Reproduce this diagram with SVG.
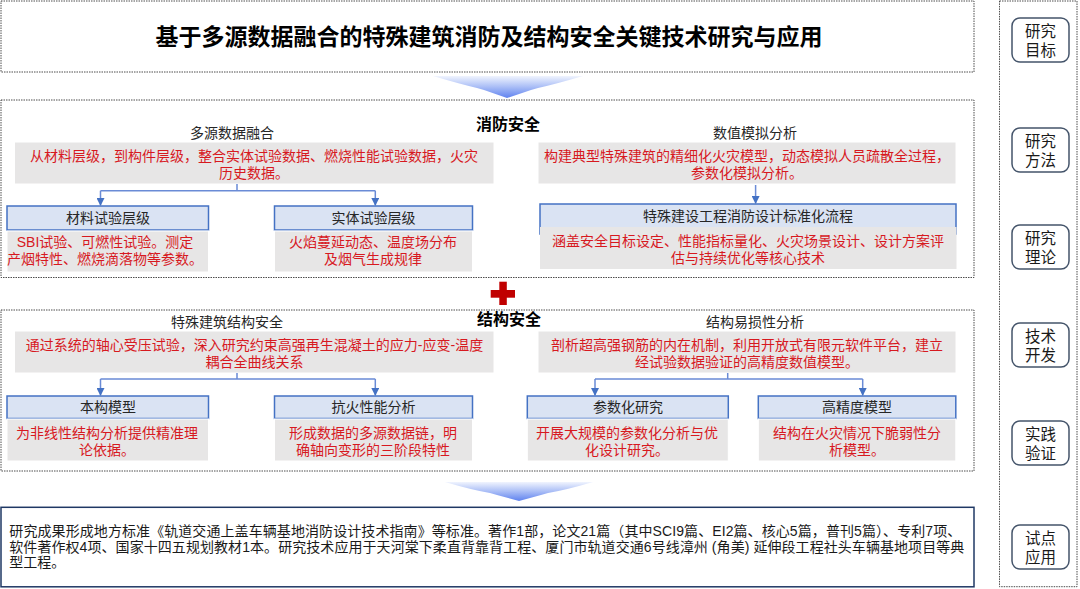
<svg xmlns="http://www.w3.org/2000/svg" width="1080" height="589" viewBox="0 0 1080 589">
<defs>
<linearGradient id="chev" x1="0" y1="0" x2="0" y2="1">
<stop offset="0" stop-color="#f0f4fe"/>
<stop offset="0.5" stop-color="#a9bdf6"/>
<stop offset="1" stop-color="#5f82ef"/>
</linearGradient>
<marker id="ah" markerWidth="8" markerHeight="8" refX="7" refY="4" orient="auto" markerUnits="userSpaceOnUse">
<path d="M0,0 L8,4 L0,8 Z" fill="#4472c4"/>
</marker>
<style>
.dot{fill:none;stroke:#4d4d4d;stroke-width:1;stroke-dasharray:1.5 1}
text{font-family:"Liberation Sans","Noto Sans CJK SC",sans-serif;dominant-baseline:central}
.lbl{font-size:14px;fill:#262626;text-anchor:middle}
.red{font-size:14px;fill:#d7191f;text-anchor:middle}
.sec{font-size:16px;font-weight:bold;fill:#000;text-anchor:middle}
.gray{fill:#e7e6e6;stroke:#fff;stroke-width:1}
.hdr{fill:#dae3f3;stroke:#4472c4;stroke-width:1.5}
.conn{fill:none;stroke:#6a8bd6;stroke-width:1.5}
.side{fill:#fff;stroke:#44546a;stroke-width:1.5}
.sidet{font-size:15.5px;fill:#1a1a1a;text-anchor:middle}
.body{font-size:14px;fill:#1a1a1a}
</style>
</defs>
<rect width="1080" height="589" fill="#fff"/>

<!-- Title -->
<g id="title">
<rect class="dot" x="1" y="1" width="973" height="71"/>
<text x="489" y="37" font-size="23" font-weight="bold" fill="#000" text-anchor="middle">基于多源数据融合的特殊建筑消防及结构安全关键技术研究与应用</text>
</g>

<!-- chevron 1 -->
<g id="chevron1">
<path d="M433,76 L583,76 Q556,84 538,88 L531,90 L507,98 L484,90 L477,88 Q460,84 433,76 Z" fill="url(#chev)"/>
</g>

<!-- Fire safety section -->
<g id="fire-section">
<rect class="dot" x="1" y="100" width="973" height="177.5"/>
<text class="sec" x="508" y="124">消防安全</text>
</g>

<g id="fire-fusion">
<text class="lbl" x="232" y="133">多源数据融合</text>
<rect class="gray" x="14.5" y="142" width="479.5" height="42"/>
<text class="red" x="254" y="156">从材料层级，到构件层级，整合实体试验数据、燃烧性能试验数据，火灾</text>
<text class="red" x="254" y="173">历史数据。</text>
</g>

<g id="fire-material">
<rect class="hdr" x="7" y="206" width="201.5" height="24"/>
<text class="lbl" x="108" y="218">材料试验层级</text>
<rect class="gray" x="7" y="231" width="201.5" height="41"/>
<text class="red" x="105" y="242">SBI试验、可燃性试验。测定</text>
<text class="red" x="105" y="259">产烟特性、燃烧滴落物等参数。</text>
</g>

<g id="fire-entity">
<rect class="hdr" x="274.5" y="206" width="198" height="24"/>
<text class="lbl" x="373.5" y="218">实体试验层级</text>
<rect class="gray" x="274.5" y="231" width="198" height="41"/>
<text class="red" x="373" y="242">火焰蔓延动态、温度场分布</text>
<text class="red" x="373" y="259">及烟气生成规律</text>
</g>

<g id="fire-numeric">
<text class="lbl" x="755" y="133">数值模拟分析</text>
<rect class="gray" x="538" y="142" width="418" height="42"/>
<text class="red" x="747" y="156">构建典型特殊建筑的精细化火灾模型，动态模拟人员疏散全过程，</text>
<text class="red" x="747" y="173">参数化模拟分析。</text>
</g>

<g id="fire-standard">
<rect class="hdr" x="540" y="204" width="416" height="30"/>
<text class="lbl" x="748" y="215.5">特殊建设工程消防设计标准化流程</text>
<rect fill="#e7e6e6" x="540" y="227" width="416.5" height="42"/>
<text class="red" x="748" y="241">涵盖安全目标设定、性能指标量化、火灾场景设计、设计方案评</text>
<text class="red" x="748" y="258">估与持续优化等核心技术</text>
</g>

<!-- red cross -->
<g id="plus">
<rect x="499.3" y="281.7" width="7.5" height="23.3" fill="#c00000"/>
<rect x="490.7" y="290" width="24.3" height="7.7" fill="#c00000"/>
</g>

<!-- Structure section -->
<g id="struct-section">
<rect class="dot" x="1" y="310" width="973" height="161"/>
<text class="sec" x="509" y="319">结构安全</text>
</g>

<g id="struct-special">
<text class="lbl" x="227" y="322">特殊建筑结构安全</text>
<rect class="gray" x="14.5" y="331" width="479.5" height="42"/>
<text class="red" x="254.5" y="345">通过系统的轴心受压试验，深入研究约束高强再生混凝土的应力-应变-温度</text>
<text class="red" x="254.5" y="362">耦合全曲线关系</text>
</g>

<g id="struct-constitutive">
<rect class="hdr" x="7" y="396" width="201.5" height="22.5"/>
<text class="lbl" x="108" y="407">本构模型</text>
<rect class="gray" x="7" y="419" width="201.5" height="42"/>
<text class="red" x="107" y="433">为非线性结构分析提供精准理</text>
<text class="red" x="107" y="450">论依据。</text>
</g>

<g id="struct-fireresist">
<rect class="hdr" x="274.5" y="396" width="198" height="22.5"/>
<text class="lbl" x="373.5" y="407">抗火性能分析</text>
<rect class="gray" x="274.5" y="419" width="198" height="42"/>
<text class="red" x="373" y="433">形成数据的多源数据链，明</text>
<text class="red" x="373" y="450">确轴向变形的三阶段特性</text>
</g>

<g id="struct-vuln">
<text class="lbl" x="755" y="322">结构易损性分析</text>
<rect class="gray" x="538" y="331" width="418" height="42"/>
<text class="red" x="747" y="345">剖析超高强钢筋的内在机制，利用开放式有限元软件平台，建立</text>
<text class="red" x="747" y="362">经试验数据验证的高精度数值模型。</text>
</g>

<g id="struct-param">
<rect class="hdr" x="527.3" y="396" width="201" height="22.5"/>
<text class="lbl" x="628" y="407">参数化研究</text>
<rect class="gray" x="527.3" y="419" width="201" height="42"/>
<text class="red" x="627" y="433">开展大规模的参数化分析与优</text>
<text class="red" x="627" y="450">化设计研究。</text>
</g>

<g id="struct-precise">
<rect class="hdr" x="758.3" y="396" width="197.5" height="22.5"/>
<text class="lbl" x="857" y="407">高精度模型</text>
<rect class="gray" x="758.3" y="419" width="197.5" height="42"/>
<text class="red" x="857" y="433">结构在火灾情况下脆弱性分</text>
<text class="red" x="857" y="450">析模型。</text>
</g>

<!-- connectors -->
<g id="connectors">
<path class="conn" d="M237,184 V190.7 M100.5,190.7 H375.3"/>
<path class="conn" d="M100.5,190.7 V205" marker-end="url(#ah)"/>
<path class="conn" d="M375.3,190.7 V205" marker-end="url(#ah)"/>
<path class="conn" d="M755.6,185 V203" marker-end="url(#ah)"/>
<path class="conn" d="M237,373 V379 M100.5,379 H375.3"/>
<path class="conn" d="M100.5,379 V395" marker-end="url(#ah)"/>
<path class="conn" d="M375.3,379 V395" marker-end="url(#ah)"/>
<path class="conn" d="M727.7,373 V379 M595,379 H862.7"/>
<path class="conn" d="M595,379 V395" marker-end="url(#ah)"/>
<path class="conn" d="M862.7,379 V395" marker-end="url(#ah)"/>
</g>

<!-- chevron 2 -->
<g id="chevron2">
<path d="M445,482 L593,482 Q566,490 548,493 L541,495 L519,501 L497,495 L490,493 Q472,490 445,482 Z" fill="url(#chev)"/>
</g>

<!-- results -->
<g id="results">
<rect x="1" y="507.3" width="973" height="79.5" fill="#fff" stroke="#1f3864" stroke-width="1.5"/>
<text class="body" x="9.3" y="531" textLength="952" lengthAdjust="spacing">研究成果形成地方标准《轨道交通上盖车辆基地消防设计技术指南》等标准。著作1部，论文21篇（其中SCI9篇、EI2篇、核心5篇，普刊5篇）、专利7项、</text>
<text class="body" x="9.3" y="547" textLength="955" lengthAdjust="spacing">软件著作权4项、国家十四五规划教材1本。研究技术应用于天河棠下柔直背靠背工程、厦门市轨道交通6号线漳州 (角美) 延伸段工程社头车辆基地项目等典</text>
<text class="body" x="9.3" y="562">型工程。</text>
</g>

<!-- side panel -->
<g id="side-panel">
<rect class="dot" x="999.5" y="1" width="77.5" height="585.7"/>
</g>
<g id="side-goal">
<rect class="side" x="1012" y="18" width="57" height="44" rx="8"/>
<text class="sidet" x="1040.5" y="31">研究</text>
<text class="sidet" x="1040.5" y="50">目标</text>
</g>
<g id="side-method">
<rect class="side" x="1012" y="128" width="57" height="44" rx="8"/>
<text class="sidet" x="1040.5" y="141">研究</text>
<text class="sidet" x="1040.5" y="160">方法</text>
</g>
<g id="side-theory">
<rect class="side" x="1012" y="225" width="57" height="44" rx="8"/>
<text class="sidet" x="1040.5" y="238">研究</text>
<text class="sidet" x="1040.5" y="257">理论</text>
</g>
<g id="side-tech">
<rect class="side" x="1012" y="323" width="57" height="44" rx="8"/>
<text class="sidet" x="1040.5" y="336">技术</text>
<text class="sidet" x="1040.5" y="355">开发</text>
</g>
<g id="side-verify">
<rect class="side" x="1012" y="421" width="57" height="44" rx="8"/>
<text class="sidet" x="1040.5" y="434">实践</text>
<text class="sidet" x="1040.5" y="453">验证</text>
</g>
<g id="side-apply">
<rect class="side" x="1012" y="525" width="57" height="44" rx="8"/>
<text class="sidet" x="1040.5" y="538">试点</text>
<text class="sidet" x="1040.5" y="557">应用</text>
</g>
</svg>
